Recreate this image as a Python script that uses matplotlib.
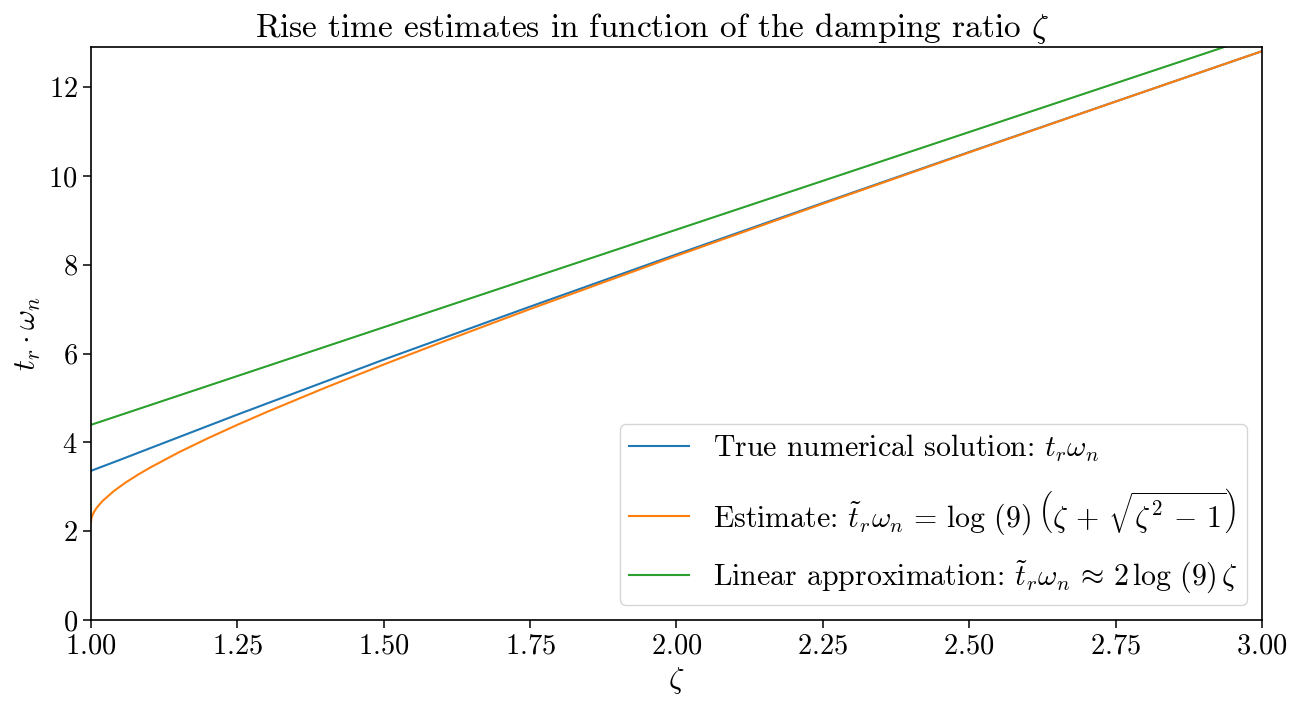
import matplotlib
matplotlib.use("Agg")
import matplotlib.pyplot as plt

# Computer Modern look without a LaTeX install
plt.rcParams["font.family"] = "serif"
plt.rcParams["font.serif"] = ["cmr10"]
plt.rcParams["mathtext.fontset"] = "cm"
plt.rcParams["axes.formatter.use_mathtext"] = True
plt.rcParams["axes.unicode_minus"] = False

# Damping ratios and normalised rise times t_r * w_n
zeta_true = [1.0, 1.05, 1.1, 1.25, 1.5, 1.75, 2.0, 2.25, 2.5, 2.75, 3.0]
rise_true = [3.358, 3.608, 3.863, 4.624, 5.862, 7.055, 8.231, 9.389, 10.536, 11.673, 12.806]

zeta_est = [1.0, 1.0005, 1.001, 1.002, 1.005, 1.01, 1.02, 1.04, 1.06, 1.08, 1.10,
            1.15, 1.20, 1.25, 1.30, 1.40, 1.50, 1.60, 1.75, 2.00, 2.25, 2.50, 2.75, 3.00]
rise_est = [2.197, 2.268, 2.298, 2.341, 2.428, 2.531, 2.683, 2.913, 3.102, 3.269, 3.424,
            3.775, 4.094, 4.394, 4.682, 5.229, 5.752, 6.260, 7.001, 8.200, 9.372, 10.527, 11.671, 12.806]

zeta_lin = [1.0, 3.0]
rise_lin = [4.394, 13.183]

fig = plt.figure(figsize=(13.05, 7.02), dpi=100)
ax = fig.add_subplot(111)
fig.subplots_adjust(left=0.0697, right=0.967, top=0.933, bottom=0.1168)

ax.plot(zeta_true, rise_true, color="C0", lw=1.5,
        label=r"True numerical solution: $t_r\omega_n$")
ax.plot(zeta_est, rise_est, color="C1", lw=1.5,
        label=r"Estimate: $\tilde{t}_r\omega_n \,=\, \log\,(9)\;\left(\zeta \,+\, \sqrt{\zeta^2 \,-\, 1}\right)$")
ax.plot(zeta_lin, rise_lin, color="C2", lw=1.5,
        label=r"Linear approximation: $\tilde{t}_r\omega_n \,\approx\, 2\,\log\,(9)\,\zeta$")

ax.set_xlim(1.0, 3.0)
ax.set_ylim(0, 12.9)
ax.set_xticks([1.0, 1.25, 1.5, 1.75, 2.0, 2.25, 2.5, 2.75, 3.0])
ax.set_yticks([0, 2, 4, 6, 8, 10, 12])
ax.tick_params(labelsize=20.5, width=1.1, length=6)
for s in ax.spines.values():
    s.set_linewidth(1.2)

fig.suptitle(r"Rise time estimates in function of the damping ratio $\zeta$",
             fontsize=24, x=0.5, y=0.985)
ax.set_xlabel(r"$\zeta$", fontsize=22)
ax.set_ylabel(r"$t_r \cdot \omega_n$", fontsize=22)

ax.legend(loc="lower right", fontsize=21.5, labelspacing=0.75, handlelength=2.0,
          borderpad=0.3)

fig.savefig("out.png", dpi=100)
